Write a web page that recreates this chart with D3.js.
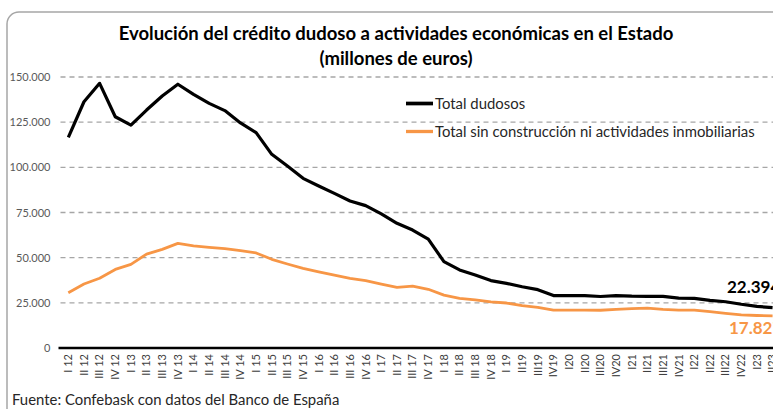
<!DOCTYPE html>
<html>
<head>
<meta charset="utf-8">
<script src="https://cdn.jsdelivr.net/npm/d3@7"></script>
<style>
  body { margin: 0; background: #fff; }
  svg { display: block; }
  text { font-family: Lato, "Open Sans", sans-serif; }
</style>
</head>
<body>
<div id="chart"></div>
<script>
var categories = [
  "I 12", "II 12", "III 12", "IV 12",
  "I 13", "II 13", "III 13", "IV 13",
  "I 14", "II 14", "III 14", "IV 14",
  "I 15", "II 15", "III 15", "IV 15",
  "I 16", "II 16", "III 16", "IV 16",
  "I 17", "II 17", "III 17", "IV 17",
  "I 18", "II 18", "III 18", "IV 18",
  "I 19", "II19", "III19", "IV19",
  "I20", "II20", "III20", "IV20",
  "I21", "II21", "III21", "IV21",
  "I22", "II22", "III22", "IV22",
  "I23", "II23"
];

// millones de euros
var totalDudosos = [
  116600, 136300, 146500, 128000,
  123400, 131700, 139500, 146000,
  140400, 135400, 131400, 124600,
  119200, 107200, 100700, 93900,
  89700, 85600, 81400, 78800,
  74200, 69000, 65300, 60300,
  47800, 43200, 40400, 37300,
  35800, 33900, 32300, 29000,
  29000, 29000, 28500, 29000,
  28700, 28600, 28600, 27600,
  27500, 26400, 25600, 24200,
  23000, 22394
];

var totalSinConstruccion = [
  30600, 35400, 38600, 43500,
  46300, 52000, 54600, 57900,
  56500, 55700, 55000, 53900,
  52600, 49100, 46500, 44100,
  42200, 40400, 38600, 37300,
  35400, 33600, 34300, 32500,
  29300, 27500, 26600, 25500,
  24900, 23400, 22500, 21000,
  21000, 21000, 20900, 21400,
  21800, 22100, 21400, 21000,
  21000, 20100, 19200, 18300,
  18000, 17827
];

var yTicks = [0, 25000, 50000, 75000, 100000, 125000, 150000];

var series = [
  { name: "Total dudosos", values: totalDudosos, color: "#000000", width: 3.2 },
  { name: "Total sin construcción ni actividades inmobiliarias", values: totalSinConstruccion, color: "#f79646", width: 2.8 }
];

var width = 773;
var height = 409;
var plot = { left: 60.5, top: 77, bottom: 348, step: 15.65 };

var svg = d3.select("#chart").append("svg")
  .attr("width", width).attr("height", height);

// frame
svg.append("rect")
  .attr("x", 7).attr("y", 12)
  .attr("width", 820).attr("height", 430)
  .attr("rx", 12).attr("ry", 12)
  .style("fill", "none")
  .style("stroke", "#a6a6a6")
  .style("stroke-width", 1.5);

var x = d3.scaleBand()
  .domain(categories)
  .range([plot.left, plot.left + categories.length * plot.step]);

var y = d3.scaleLinear()
  .domain([0, 150000])
  .range([plot.bottom, plot.top]);

var fmt = d3.formatLocale({ decimal: ",", thousands: ".", grouping: [3], currency: ["", "€"] }).format(",");

function cx(d) { return x(d) + x.bandwidth() / 2; }

// gridlines
svg.append("g").selectAll("line")
  .data(yTicks.filter(function(t) { return t > 0; }))
  .enter().append("line")
  .attr("x1", plot.left).attr("x2", width)
  .attr("y1", function(d) { return y(d); })
  .attr("y2", function(d) { return y(d); })
  .style("stroke", "#a6a6a6")
  .style("stroke-width", 1.3)
  .style("stroke-dasharray", "5,4");

// y axis labels
var yAxis = svg.append("g")
  .attr("transform", "translate(" + (plot.left - 8) + ",0)")
  .call(d3.axisLeft(y).tickValues(yTicks).tickSize(0).tickPadding(2).tickFormat(fmt));
yAxis.select(".domain").remove();
yAxis.selectAll("text")
  .style("font-size", "11px")
  .style("fill", "#595959")
  .style("font-family", "Lato, sans-serif");

// x axis
var xAxis = svg.append("g")
  .attr("transform", "translate(0," + plot.bottom + ")")
  .call(d3.axisBottom(x).tickSize(0).tickPadding(0));
xAxis.select(".domain")
  .attr("d", "M" + (plot.left - 2) + ",0H" + (width + 10))
  .style("stroke", "#000")
  .style("stroke-width", 2.5);
xAxis.selectAll("text")
  .attr("transform", "rotate(-90)")
  .attr("x", -6).attr("y", 0).attr("dy", "0.35em")
  .style("text-anchor", "end")
  .style("font-size", "11px")
  .style("fill", "#404040")
  .style("font-family", "Lato, sans-serif");

// lines
var lineGen = d3.line()
  .x(function(d, i) { return cx(categories[i]); })
  .y(function(d) { return y(d); });

series.slice().reverse().forEach(function(s) {
  svg.append("path")
    .datum(s.values)
    .attr("d", lineGen)
    .style("fill", "none")
    .style("stroke", s.color)
    .style("stroke-width", s.width)
    .style("stroke-linejoin", "round");
});

// end labels (cut at the right edge, as in the original)
var last = categories.length - 1;
svg.append("text")
  .attr("x", 727).attr("y", 293)
  .text(fmt(totalDudosos[last]))
  .style("font-size", "17px").style("font-weight", "bold").style("fill", "#000");
svg.append("text")
  .attr("x", 729).attr("y", 334)
  .text(fmt(totalSinConstruccion[last]))
  .style("font-size", "17px").style("font-weight", "bold").style("fill", "#f79646");

// legend
var legend = svg.append("g");
series.forEach(function(s, i) {
  var ly = 103.5 + i * 28;
  legend.append("line")
    .attr("x1", 406).attr("x2", 433)
    .attr("y1", ly).attr("y2", ly)
    .style("stroke", s.color)
    .style("stroke-width", s.width + 0.5);
  legend.append("text")
    .attr("x", 435).attr("y", ly).attr("dy", "0.35em")
    .text(s.name)
    .style("font-size", "14.9px")
    .style("fill", "#262626");
});

// title
svg.append("text")
  .attr("x", 396).attr("y", 40)
  .attr("text-anchor", "middle")
  .text("Evolución del crédito dudoso a actividades económicas en el Estado")
  .style("font-size", "18.5px").style("font-weight", "bold").style("fill", "#000");
svg.append("text")
  .attr("x", 396).attr("y", 65)
  .attr("text-anchor", "middle")
  .text("(millones de euros)")
  .style("font-size", "18.5px").style("font-weight", "bold").style("fill", "#000");

// source
svg.append("text")
  .attr("x", 12).attr("y", 405)
  .text("Fuente: Confebask con datos del Banco de España")
  .style("font-size", "14.9px")
  .style("fill", "#262626");
</script>
</body>
</html>
